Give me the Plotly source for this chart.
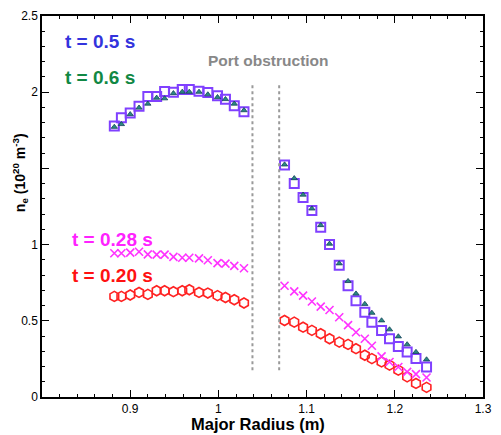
import plotly.graph_objects as go

# Major radius grids (m)
R_inner = [0.882, 0.890, 0.900, 0.910, 0.920, 0.930, 0.939, 0.949, 0.959, 0.967,
           0.978, 0.988, 0.999, 1.008, 1.018, 1.029]
R_outer = [1.075, 1.086, 1.096, 1.106, 1.116, 1.126, 1.137, 1.147, 1.156, 1.166,
           1.174, 1.185, 1.194, 1.204, 1.214, 1.224, 1.236]

# Electron density (1e20 m^-3)
ne_05_in = [1.779, 1.833, 1.863, 1.907, 1.972, 1.972, 2.005, 2.000, 2.018, 2.018,
            2.007, 1.998, 1.976, 1.954, 1.911, 1.872]
ne_05_out = [1.523, 1.401, 1.309, 1.223, 1.114, 1.001, 0.865, 0.730, 0.632, 0.556,
             0.491, 0.437, 0.382, 0.332, 0.295, 0.252, 0.197]

ne_06_in = [1.772, 1.790, 1.855, 1.898, 1.924, 1.963, 1.959, 1.993, 2.002, 2.002,
            2.002, 1.985, 1.967, 1.954, 1.924, 1.881]
ne_06_out = [1.525, 1.435, 1.327, 1.236, 1.127, 1.005, 0.876, 0.760, 0.678, 0.610,
             0.552, 0.502, 0.443, 0.397, 0.345, 0.295, 0.246]

ne_028_in = [0.943, 0.943, 0.947, 0.953, 0.936, 0.934, 0.934, 0.919, 0.914, 0.914,
             0.910, 0.897, 0.878, 0.875, 0.860, 0.845]
ne_028_out = [0.730, 0.693, 0.665, 0.627, 0.593, 0.571, 0.523, 0.472, 0.425, 0.382,
              0.336, 0.267, 0.230, 0.197, 0.165, 0.150, 0.128]

ne_020_in = [0.660, 0.660, 0.669, 0.686, 0.673, 0.697, 0.697, 0.691, 0.697, 0.704,
             0.686, 0.682, 0.665, 0.653, 0.638, 0.617]
ne_020_out = [0.502, 0.491, 0.458, 0.437, 0.415, 0.382, 0.360, 0.345, 0.317, 0.274,
              0.252, 0.230, 0.209, 0.176, 0.132, 0.089, 0.063]

obstruction_R = [1.0386, 1.0689]
obstruction_ne = [0.176, 2.046]

x_ticks = [0.9, 1.0, 1.1, 1.2, 1.3]
x_ticktext = ["0.9", "1", "1.1", "1.2", "1.3"]
y_ticks = [0, 0.5, 1, 1.5, 2, 2.5]
y_ticktext = ["0", "0.5", "1", "", "2", "2.5"]

R_all = R_inner + R_outer

fig = go.Figure()

fig.add_trace(go.Scatter(
    x=R_all, y=ne_020_in + ne_020_out, mode="markers",
    marker=dict(symbol="hexagon-open", size=10, color="#ff2222", line=dict(width=1.6, color="#ff2222")),
    showlegend=False))
fig.add_trace(go.Scatter(
    x=R_all, y=ne_028_in + ne_028_out, mode="markers",
    marker=dict(symbol="x-thin-open", size=8, color="#ff33ff", line=dict(width=1.6, color="#ff33ff")),
    showlegend=False))
fig.add_trace(go.Scatter(
    x=R_all, y=ne_05_in + ne_05_out, mode="markers",
    marker=dict(symbol="square-open", size=9, color="#8040ff", line=dict(width=2, color="#8040ff")),
    showlegend=False))
fig.add_trace(go.Scatter(
    x=R_all, y=ne_06_in + ne_06_out, mode="markers",
    marker=dict(symbol="triangle-up", size=5.5, color="#2a8a80", line=dict(width=0.8, color="#14405a")),
    showlegend=False))

for xr in obstruction_R:
    fig.add_shape(type="line", x0=xr, x1=xr, y0=obstruction_ne[0], y1=obstruction_ne[1],
                  xref="x", yref="y", line=dict(color="#9a9a9a", width=2, dash="dot"))

lab_font = "Liberation Sans, Arial, sans-serif"
labels = [
    ("t = 0.5 s", 0.8233, 2.332, "#3333dd"),
    ("t = 0.6 s", 0.8233, 2.098, "#118844"),
    ("t = 0.28 s", 0.8322, 1.036, "#ff22ff"),
    ("t = 0.20 s", 0.8322, 0.795, "#ff1111"),
]
for txt, xx, yy, col in labels:
    fig.add_annotation(x=xx, y=yy, xref="x", yref="y", text="<b>%s</b>" % txt,
                       showarrow=False, xanchor="left", yanchor="middle",
                       font=dict(family=lab_font, size=19, color=col))

fig.add_annotation(x=1.0567, y=2.208, xref="x", yref="y", text="<b>Port obstruction</b>",
                   showarrow=False, xanchor="center", yanchor="middle",
                   font=dict(family=lab_font, size=15.5, color="#888888"))

fig.add_annotation(x=0.49, y=-0.072, xref="paper", yref="paper", text="<b>Major Radius (m)</b>",
                   showarrow=False, xanchor="center", yanchor="middle",
                   font=dict(family=lab_font, size=16.5, color="black"))

fig.add_annotation(x=-0.05, y=0.59, xref="paper", yref="paper",
                   text="<b>n<sub>e</sub> (10<sup>20</sup> m<sup>-3</sup>)</b>",
                   showarrow=False, textangle=-90, xanchor="center", yanchor="middle",
                   font=dict(family=lab_font, size=14, color="black"))

axis_common = dict(showline=True, linecolor="black", linewidth=1.5, mirror="ticks",
                   ticks="inside", tickcolor="black", tickwidth=1.2, ticklen=7,
                   showgrid=False, zeroline=False,
                   tickfont=dict(family=lab_font, size=12, color="black"))

fig.update_xaxes(range=[0.8, 1.3], tickvals=x_ticks, ticktext=x_ticktext,
                 minor=dict(dtick=0.02, tick0=0.8, ticks="inside", ticklen=3.5, tickcolor="black", tickwidth=1),
                 **axis_common)
fig.update_yaxes(range=[0, 2.5], tickvals=y_ticks, ticktext=y_ticktext,
                 minor=dict(dtick=0.1, tick0=0, ticks="inside", ticklen=3.5, tickcolor="black", tickwidth=1),
                 **axis_common)

fig.update_layout(width=501, height=435, plot_bgcolor="white", paper_bgcolor="white",
                  margin=dict(l=42, r=9, t=13, b=38), showlegend=False)

fig.write_html("out.html", config={"displayModeBar": False},
               post_script="document.body.style.margin='0';document.body.style.padding='0';")
